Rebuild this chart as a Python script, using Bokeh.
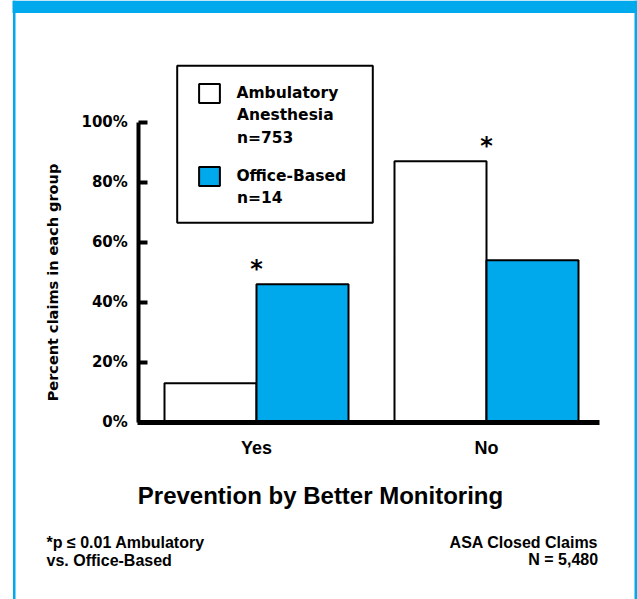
import math
from bokeh.plotting import figure
from bokeh.models import (Label, Legend, LegendItem, BoxAnnotation, FixedTicker,
                          ColumnDataSource, Range1d)
from bokeh.transform import dodge
from bokeh.embed import file_html
from bokeh.resources import INLINE
from bokeh.core.properties import value

# ---------------- data ----------------
categories = ["Yes", "No"]
positions = [1, 2]
ambulatory = [13, 87]      # Ambulatory Anesthesia n=753 (% of claims)
office = [46, 54]          # Office-Based n=14 (% of claims)
y_ticks = [0, 20, 40, 60, 80, 100]
y_tick_labels = ["0%", "20%", "40%", "60%", "80%", "100%"]
series_first = ["Ambulatory", "Office-Based"]
series_rest = [["Anesthesia", "n=753"], ["n=14"]]
title_text = "Prevention by Better Monitoring"
y_label_text = "Percent claims in each group"
note_left = ["*p \u2264 0.01 Ambulatory", "vs. Office-Based"]
note_right = ["ASA Closed Claims", "N = 5,480"]

# ---------------- layout helpers (page pixel -> data) ----------------
W, H = 637, 599
BLUE = "#00A9EB"
FONT = "DejaVu Sans"
FONT2 = "Liberation Sans"


def X(px):
    return 1 + (px - 256) / 230.0


def Y(py):
    return (421.7 - py) / 3.0


p = figure(width=W, height=H, output_backend="svg", toolbar_location=None,
           title=None,
           x_range=Range1d(X(0), X(W)), y_range=Range1d(Y(H), Y(0)),
           min_border=0, min_border_left=0, min_border_right=0,
           min_border_top=0, min_border_bottom=0)
p.outline_line_color = None
p.grid.visible = False
p.background_fill_color = "white"
p.border_fill_color = "white"

# y axis
ya = p.yaxis[0]
ya.fixed_location = X(138.3)
ya.bounds = (0, 100)
ya.ticker = FixedTicker(ticks=y_ticks)
ya.major_label_overrides = {t: l for t, l in zip(y_ticks, y_tick_labels)}
ya.axis_line_width = 4
ya.axis_line_color = "black"
ya.major_tick_in = 9
ya.major_tick_out = 0
ya.major_tick_line_width = 4
ya.major_tick_line_color = "black"
ya.minor_tick_line_color = None
ya.major_label_standoff = 11
ya.major_label_text_font = FONT
ya.major_label_text_font_style = "bold"
ya.major_label_text_font_size = "15px"
ya.major_label_text_color = "black"

# x axis
xa = p.xaxis[0]
xa.fixed_location = 0
xa.bounds = (X(136.5), X(599))
xa.ticker = FixedTicker(ticks=positions)
xa.major_label_overrides = {x: c for x, c in zip(positions, categories)}
xa.axis_line_width = 5
xa.axis_line_color = "black"
xa.major_tick_in = 0
xa.major_tick_out = 0
xa.minor_tick_line_color = None
xa.major_label_standoff = 16
xa.major_label_text_font = FONT2
xa.major_label_text_font_style = "bold"
xa.major_label_text_font_size = "18px"
xa.major_label_text_color = "black"

# legend frame (drawn under everything)
p.add_layout(BoxAnnotation(left=X(176.7), right=X(372.3), top=Y(65.3), bottom=Y(222.3),
                           fill_color="white", fill_alpha=1, line_color="black",
                           line_alpha=1, line_width=2, level="underlay"))

# bars
src = ColumnDataSource(dict(x=positions, amb=ambulatory, off=office,
                            star_y=[max(a, o) for a, o in zip(ambulatory, office)],
                            star=["*", "*"]))
r1 = p.vbar(x=dodge("x", -0.2, range=p.x_range), top="amb", bottom=0, width=0.4,
            fill_color="white", line_color="black", line_width=2, source=src)
r2 = p.vbar(x=dodge("x", 0.2, range=p.x_range), top="off", bottom=0, width=0.4,
            fill_color=BLUE, line_color="black", line_width=2, source=src)

# significance stars
p.text(x="x", y="star_y", text="star", source=src, text_align="center",
       text_baseline="alphabetic", y_offset=-15, text_font=value(FONT),
       text_font_style="bold", text_font_size="24px", text_color="black")

# legend (first line of each entry; further lines as labels)
legend = Legend(items=[LegendItem(label=series_first[0], renderers=[r1]),
                       LegendItem(label=series_first[1], renderers=[r2])],
                location=(196.4, H - 188), margin=0, padding=0,
                glyph_width=26, glyph_height=24, label_standoff=14, spacing=59,
                border_line_color=None, background_fill_alpha=0,
                label_text_font=FONT, label_text_font_style="bold",
                label_text_font_size="15.5px", label_text_baseline="middle",
                label_text_color="black")
p.add_layout(legend)
extra_centers = [[114.8, 137.2], [197.0]]
for lines, cs in zip(series_rest, extra_centers):
    for t, c in zip(lines, cs):
        p.add_layout(Label(x=X(236.4), y=Y(c), text=t, text_align="left",
                           text_baseline="middle", text_font=FONT,
                           text_font_style="bold", text_font_size="15.5px",
                           text_color="black"))

# title and axis label
p.add_layout(Label(x=X(320), y=Y(494.6), text=title_text, text_align="center",
                   text_baseline="middle", text_font=FONT2, text_font_style="bold",
                   text_font_size="24px", text_color="black"))
p.add_layout(Label(x=X(52.5), y=Y(282), text=y_label_text, angle=math.pi / 2,
                   text_align="center", text_baseline="middle", text_font=FONT,
                   text_font_style="bold", text_font_size="14.5px", text_color="black"))

# footnotes
for t, c in zip(note_left, [542.2, 559.6]):
    p.add_layout(Label(x=X(46), y=Y(c), text=t, text_align="left",
                       text_baseline="middle", text_font=FONT2, text_font_style="bold",
                       text_font_size="16px", text_color="black"))
for t, c in zip(note_right, [541.6, 559.0]):
    p.add_layout(Label(x=X(597.6), y=Y(c), text=t, text_align="right",
                       text_baseline="middle", text_font=FONT2, text_font_style="bold",
                       text_font_size="16px", text_color="black"))

# blue frame
def cbox(l, r, t, b):
    return BoxAnnotation(left=l, right=r, top=t, bottom=b,
                         left_units="canvas", right_units="canvas",
                         top_units="canvas", bottom_units="canvas",
                         fill_color=BLUE, fill_alpha=1, line_color=None,
                         level="overlay")


p.add_layout(cbox(12, W, 0, 12.5))
p.add_layout(cbox(12.5, 15, 0, H))
p.add_layout(cbox(634, 636.5, 0, H))

open("out.html", "w").write(file_html(p, INLINE))
